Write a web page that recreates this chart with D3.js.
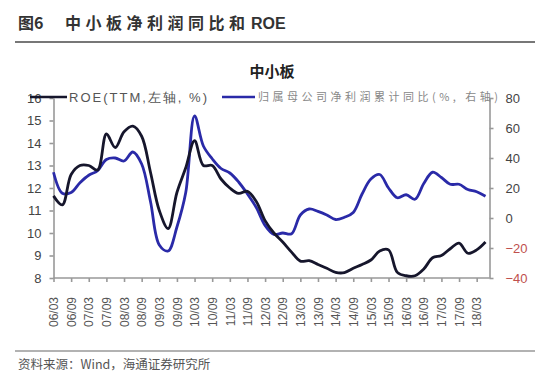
<!DOCTYPE html>
<html lang="zh">
<head>
<meta charset="UTF-8">
<title>中小板净利润同比和ROE</title>
<style>
  body { margin: 0; background: #fff; }
  svg { display: block; }
  .cjk { font-family: "Noto Sans CJK SC", sans-serif; }
  .lat { font-family: "Liberation Sans", Arial, sans-serif; }
</style>
</head>
<body>
<div id="chart"></div>
<script src="https://d3js.org/d3.v7.min.js"></script>
<script>
// quarterly periods, 2006Q1 .. 2018Q2
const periods = [
  "06/03","06/06","06/09","06/12","07/03","07/06","07/09","07/12",
  "08/03","08/06","08/09","08/12","09/03","09/06","09/09","09/12",
  "10/03","10/06","10/09","10/12","11/03","11/06","11/09","11/12",
  "12/03","12/06","12/09","12/12","13/03","13/06","13/09","13/12",
  "14/03","14/06","14/09","14/12","15/03","15/06","15/09","15/12",
  "16/03","16/06","16/09","16/12","17/03","17/06","17/09","17/12",
  "18/03","18/06"
];
const tickLabels = [
  "06/03","06/09","07/03","07/09","08/03","08/09","09/03","09/09",
  "10/03","10/09","11/03","11/09","12/03","12/09","13/03","13/09",
  "14/03","14/09","15/03","15/09","16/03","16/09","17/03","17/09","18/03"
];
// ROE (TTM, %) - left axis
const roe = [
  11.65, 11.25, 12.6, 13.0, 13.0, 12.8, 14.4, 13.8,
  14.5, 14.75, 14.3, 12.7, 11.0, 10.2, 11.8, 12.9,
  14.1, 13.0, 13.0, 12.4, 12.0, 11.76, 11.85, 11.4,
  10.55, 10.0, 9.6, 9.15, 8.75, 8.77, 8.6, 8.43,
  8.25, 8.24, 8.43, 8.6, 8.8, 9.2, 9.25, 8.25,
  8.1, 8.1, 8.4, 8.9, 9.0, 9.3, 9.55, 9.1,
  9.25, 9.6
];
// 归属母公司净利润累计同比 (%) - right axis
const profitYoY = [
  30.5, 16.5, 17.0, 23.5, 28.5, 31.5, 39, 40,
  38, 44, 36, 11, -18, -22, -6, 17,
  68, 48, 39.5, 33, 30, 24, 16, 7,
  -5, -11, -10, -10.5, 2, 6, 4.4, 2,
  -1, 0.5, 3.7, 16, 26, 29, 20, 13.5,
  15.5, 12.5, 23, 30.5, 27, 22.5, 22.5, 19,
  17.5, 14.5
];
const leftTicks = [8, 9, 10, 11, 12, 13, 14, 15, 16];
const rightTicks = [-40, -20, 0, 20, 40, 60, 80];

const width = 550, height = 390;
const plot = { left: 53.5, right: 489.5, top: 98, bottom: 278 };

const svg = d3.select("#chart").append("svg")
  .attr("width", width)
  .attr("height", height);

// header
const title = svg.append("text").attr("class", "cjk")
  .attr("y", 29).attr("font-size", 16).attr("font-weight", "bold").attr("fill", "#333");
title.append("tspan").attr("x", 18).text("图6");
title.append("tspan").attr("x", 65)
  .attr("textLength", 180).attr("lengthAdjust", "spacing")
  .text("中小板净利润同比和");
title.append("tspan").attr("x", 251)
  .attr("font-family", "Liberation Sans, Arial, sans-serif")
  .text("ROE");
svg.append("line")
  .attr("x1", 15).attr("x2", 535).attr("y1", 42).attr("y2", 42)
  .attr("stroke", "#777").attr("stroke-width", 2);

svg.append("text").attr("class", "cjk")
  .attr("x", 272).attr("y", 77).attr("text-anchor", "middle")
  .attr("font-size", 15).attr("font-weight", "bold").attr("fill", "#222")
  .text("中小板");

const x = d3.scalePoint().domain(periods).range([plot.left, 485.5]);
const yL = d3.scaleLinear().domain([8, 16]).range([plot.bottom, plot.top]);
const yR = d3.scaleLinear().domain([-40, 80]).range([plot.bottom, plot.top]);

// axes
const axisColor = "#999";
const gx = svg.append("g")
  .attr("transform", `translate(0,${plot.bottom})`)
  .call(d3.axisBottom(x).tickValues(tickLabels).tickSize(4).tickSizeOuter(0));
gx.select(".domain").attr("d", `M${plot.left},0H${plot.right}`);
gx.selectAll("line, .domain").attr("stroke", axisColor).attr("stroke-width", 1.6);
gx.selectAll("text")
  .attr("class", "lat")
  .attr("font-size", 12).attr("fill", "#555")
  .attr("text-anchor", "end")
  .attr("transform", "rotate(-90)")
  .attr("x", -19).attr("y", 0).attr("dy", "0.35em");

const gl = svg.append("g")
  .attr("transform", `translate(${plot.left},0)`)
  .call(d3.axisLeft(yL).tickValues(leftTicks).tickSize(4).tickSizeOuter(0).tickPadding(8));
gl.selectAll("line, .domain").attr("stroke", axisColor).attr("stroke-width", 1.6);
gl.selectAll("text").attr("class", "lat").attr("font-size", 13).attr("fill", "#444");

const gr = svg.append("g")
  .attr("transform", `translate(${plot.right},0)`)
  .call(d3.axisRight(yR).tickValues(rightTicks).tickSize(4).tickSizeOuter(0).tickPadding(12));
gr.selectAll("line, .domain").attr("stroke", axisColor).attr("stroke-width", 1.6);
gr.selectAll("text").attr("class", "lat").attr("font-size", 13)
  .attr("fill", d => d < 0 ? "#c0504d" : "#444");

// lines
const lineL = d3.line()
  .x((d, i) => x(periods[i]))
  .y(d => yL(d))
  .curve(d3.curveCatmullRom.alpha(0.5));
const lineR = d3.line()
  .x((d, i) => x(periods[i]))
  .y(d => yR(d))
  .curve(d3.curveCatmullRom.alpha(0.5));

svg.append("path").datum(profitYoY)
  .attr("d", lineR)
  .attr("fill", "none").attr("stroke", "#2a2aa8").attr("stroke-width", 2.8)
  .attr("stroke-linejoin", "round");
svg.append("path").datum(roe)
  .attr("d", lineL)
  .attr("fill", "none").attr("stroke", "#16162c").attr("stroke-width", 2.8)
  .attr("stroke-linejoin", "round");

// legend
const lg = svg.append("g");
lg.append("line").attr("x1", 30).attr("x2", 67).attr("y1", 97).attr("y2", 97)
  .attr("stroke", "#16162c").attr("stroke-width", 2.5);
lg.append("text").attr("class", "lat")
  .attr("x", 69).attr("y", 102).attr("font-size", 13).attr("fill", "#555")
  .attr("textLength", 138).attr("lengthAdjust", "spacing")
  .text("ROE(TTM,左轴, %)");
lg.append("line").attr("x1", 222).attr("x2", 255).attr("y1", 97).attr("y2", 97)
  .attr("stroke", "#2a2aa8").attr("stroke-width", 2.5);
lg.append("text").attr("class", "cjk")
  .attr("x", 258).attr("y", 101).attr("font-size", 11).attr("fill", "#888")
  .attr("textLength", 240).attr("lengthAdjust", "spacing")
  .text("归属母公司净利润累计同比(%, 右轴)");

// footer
svg.append("line")
  .attr("x1", 15).attr("x2", 535).attr("y1", 351).attr("y2", 351)
  .attr("stroke", "#999").attr("stroke-width", 1.5);
svg.append("text").attr("class", "cjk")
  .attr("x", 18).attr("y", 369).attr("font-size", 12.5).attr("fill", "#555")
  .text("资料来源：Wind，海通证券研究所");
</script>
</body>
</html>
